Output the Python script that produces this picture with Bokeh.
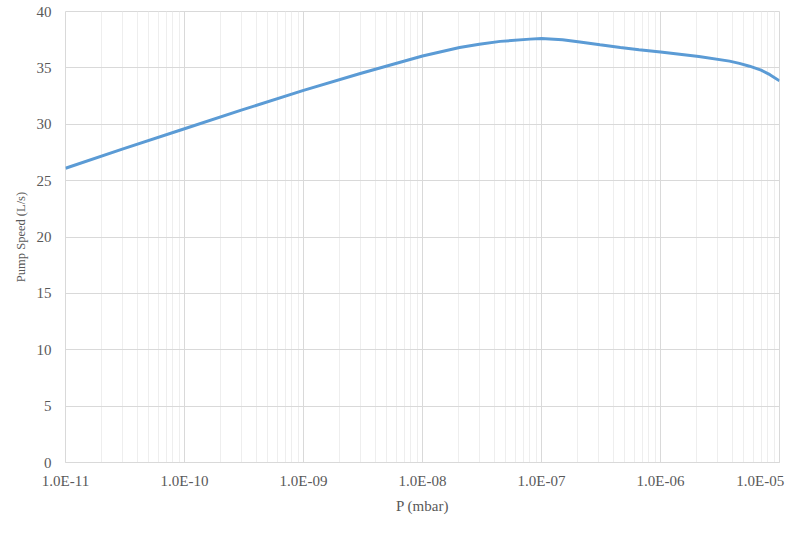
from bokeh.plotting import figure
from bokeh.models import FixedTicker, Range1d
from bokeh.embed import file_html
from bokeh.resources import INLINE

# Data
pressure_mbar = [1e-11, 3e-11, 1e-10, 3e-10, 1e-9, 3e-9, 6.5e-9, 1e-8, 2.05e-8,
                 3e-8, 4.5e-8, 8e-8, 1e-7, 1.5e-7, 2.1e-7, 3.1e-7, 4.6e-7,
                 6.6e-7, 1e-6, 2.1e-6, 3.8e-6, 4.6e-6, 5.6e-6, 7e-6, 8.3e-6, 1e-5]
pump_speed_ls = [26.1, 27.8, 29.6, 31.25, 33.0, 34.5, 35.5, 36.05, 36.8,
                 37.1, 37.35, 37.55, 37.6, 37.5, 37.3, 37.05, 36.8,
                 36.6, 36.4, 36.0, 35.6, 35.4, 35.15, 34.8, 34.4, 33.85]

x_major_ticks = [1e-11, 1e-10, 1e-9, 1e-8, 1e-7, 1e-6, 1e-5]
x_tick_labels = ["1.0E-11", "1.0E-10", "1.0E-09", "1.0E-08", "1.0E-07", "1.0E-06", "1.0E-05"]
y_ticks = [0, 5, 10, 15, 20, 25, 30, 35, 40]
# the last label sits a little inside the right edge, as in the reference
last_label_pos = 6.9e-6

x_minor_ticks = [m * d for d in x_major_ticks[:-1] for m in range(2, 10)]

FONT = "Liberation Serif"
TEXT = "#595959"

p = figure(width=798, height=550, x_axis_type="log",
           x_range=Range1d(1e-11, 1e-5), y_range=Range1d(0, 40),
           output_backend="svg", toolbar_location=None,
           min_border_left=65, min_border_right=19,
           min_border_top=11, min_border_bottom=88)

p.line(pressure_mbar, pump_speed_ls, line_color="#5b9bd5", line_width=3)

label_ticks = x_major_ticks[:-1] + [last_label_pos]
p.xaxis.ticker = FixedTicker(ticks=label_ticks, minor_ticks=[])
p.xaxis.major_label_overrides = {t: lab for t, lab in zip(label_ticks, x_tick_labels)}
p.xgrid.ticker = FixedTicker(ticks=x_major_ticks, minor_ticks=x_minor_ticks)
p.yaxis.ticker = FixedTicker(ticks=y_ticks)

for ax in (p.xaxis, p.yaxis):
    ax.major_tick_line_color = None
    ax.minor_tick_line_color = None
    ax.major_label_text_font = FONT
    ax.major_label_text_font_size = "15px"
    ax.major_label_text_color = TEXT
    ax.axis_label_text_font = FONT
    ax.axis_label_text_color = TEXT
    ax.axis_label_text_font_style = "normal"

p.xaxis.axis_line_color = "#d9d9d9"
p.yaxis.axis_line_color = None
p.xaxis.major_label_standoff = 4
p.yaxis.major_label_standoff = 8
p.xaxis.axis_label = "P (mbar)"
p.yaxis.axis_label = "Pump Speed (L/s)"
p.xaxis.axis_label_text_font_size = "15px"
p.yaxis.axis_label_text_font_size = "12.5px"
p.xaxis.axis_label_standoff = 6
p.yaxis.axis_label_standoff = 6

p.xgrid.grid_line_color = "#d9d9d9"
p.xgrid.minor_grid_line_color = "#eeeeee"
p.ygrid.grid_line_color = "#d9d9d9"
p.outline_line_color = "#d9d9d9"
p.background_fill_color = "white"
p.border_fill_color = "white"

open("out.html", "w").write(file_html(p, INLINE))
